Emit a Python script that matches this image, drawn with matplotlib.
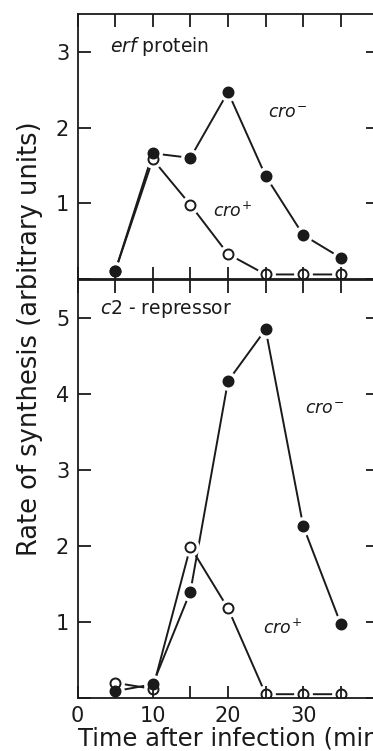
import matplotlib
matplotlib.use("Agg")
import matplotlib.pyplot as plt

plt.rcParams['font.family'] = ['DejaVu Sans']
plt.rcParams['mathtext.fontset'] = 'dejavusans'

# time after infection (min)
times = [5, 10, 15, 20, 25, 30, 35]

# erf protein
erf_cro_minus = [0.10, 1.66, 1.60, 2.47, 1.36, 0.58, 0.28]
erf_cro_plus = [0.10, 1.58, 0.98, 0.33, 0.06, 0.06, 0.06]

# c2 repressor
c2_cro_minus = [0.09, 0.18, 1.40, 4.17, 4.85, 2.26, 0.97]
c2_cro_plus = [0.20, 0.12, 1.99, 1.18, 0.05, 0.05, 0.05]

xtick_pos = [0, 5, 10, 15, 20, 25, 30, 35, 40]
xtick_lab = ['0', '', '10', '', '20', '', '30', '', '']

ink = '#1a1a1a'
W, H = 373, 751
fig = plt.figure(figsize=(W / 100, H / 100), dpi=100)
fig.patch.set_facecolor('white')

left = 77.5 / W
width = 301 / W
ax1 = fig.add_axes([left, 1 - 279 / H, width, 265 / H])
ax2 = fig.add_axes([left, 1 - 698 / H, width, 418 / H])


def series(ax, y, filled):
    ax.plot(times, y, '-', color=ink, lw=1.4, zorder=1)
    ax.plot(times, y, 'o', ms=12.5, color='white', mec='white', zorder=1.5)
    ax.plot(times, y, 'o', ms=7.2, mfc=ink if filled else 'white',
            mec=ink, mew=1.4, zorder=2)


for ax, ymax, yt in [(ax1, 3.5, [1, 2, 3]), (ax2, 5.5, [1, 2, 3, 4, 5])]:
    ax.set_axisbelow(False)
    ax.set_xlim(0, 40)
    ax.set_ylim(0, ymax)
    ax.set_xticks(xtick_pos)
    ax.set_yticks([0] + yt)
    ax.set_yticklabels([''] + [str(v) for v in yt])
    ax.tick_params(direction='in', length=9, width=1.3, color=ink,
                   top=True, right=True, labelsize=15, labelcolor=ink, pad=6)
    for s in ax.spines.values():
        s.set_linewidth(1.3)
        s.set_color(ink)

ax1.set_xticklabels([])
ax2.set_xticklabels(xtick_lab)

series(ax1, erf_cro_plus, False)
series(ax1, erf_cro_minus, True)
series(ax2, c2_cro_plus, False)
series(ax2, c2_cro_minus, True)

ax1.text(4.3, 3.07, r'$\mathit{erf}$ protein', fontsize=13.5, color=ink, va='center')
ax1.text(25.3, 2.19, r'$\mathit{cro}^{-}$', fontsize=12.5, color=ink, va='center')
ax1.text(18.0, 0.9, r'$\mathit{cro}^{+}$', fontsize=12.5, color=ink, va='center')
ax2.text(3.0, 5.12, r'$\mathit{c2}$ - repressor', fontsize=13.5, color=ink, va='center')
ax2.text(30.2, 3.8, r'$\mathit{cro}^{-}$', fontsize=12.5, color=ink, va='center')
ax2.text(24.6, 0.92, r'$\mathit{cro}^{+}$', fontsize=12.5, color=ink, va='center')

ax2.set_xlabel('Time after infection (min)', fontsize=17.5, color=ink,
               labelpad=0, loc='left')
fig.text(30 / W, 1 - 339 / H, 'Rate of synthesis (arbitrary units)',
         rotation=90, fontsize=18.5, color=ink, ha='center', va='center')

fig.savefig('out.png', dpi=100)
